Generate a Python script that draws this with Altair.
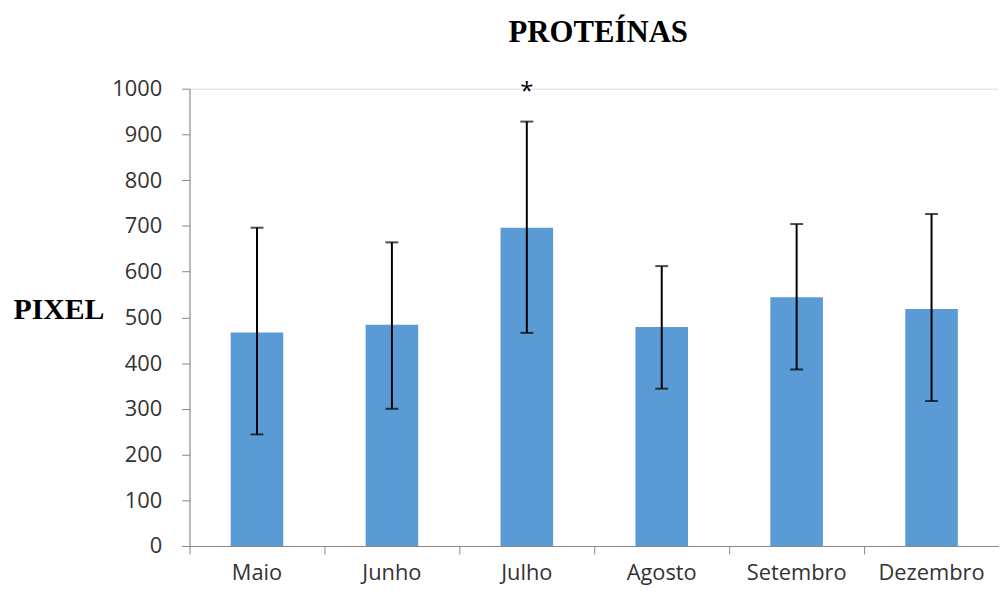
import altair as alt
import pandas as pd

months = ["Maio", "Junho", "Julho", "Agosto", "Setembro", "Dezembro"]
mean_pixel = [467, 484, 696, 479, 544, 518]
err_low = [244, 300, 466, 344, 386, 317]
err_high = [696, 664, 928, 612, 704, 726]
sig_marks = ["", "", "*", "", "", ""]
sig_level = [1000, 1000, 1000, 1000, 1000, 1000]
y_ticks = [0, 100, 200, 300, 400, 500, 600, 700, 800, 900, 1000]

df = pd.DataFrame({
    "mes": months,
    "pixel": mean_pixel,
    "lo": err_low,
    "hi": err_high,
    "sig": sig_marks,
    "sig_y": sig_level,
})

AX = "#868686"
LBL = "#333333"

x_enc = alt.X(
    "mes:N",
    sort=months,
    scale=alt.Scale(paddingInner=0, paddingOuter=0),
    axis=alt.Axis(
        title=None,
        labelAngle=0,
        labelFont="Open Sans",
        labelFontSize=22,
        labelColor=LBL,
        labelPadding=9,
        bandPosition=0,
        tickSize=8,
        tickColor=AX,
        domainColor=AX,
        domainWidth=1,
        labelBaseline="top",
    ),
)

y_scale = alt.Scale(domain=[0, 1000], nice=False, zero=True)

bars = alt.Chart(df).mark_bar(size=53, color="#5B9BD5").encode(
    x=x_enc,
    y=alt.Y(
        "pixel:Q",
        scale=y_scale,
        axis=alt.Axis(
            values=y_ticks,
            format="d",
            grid=False,
            title="PIXEL",
            titleFont="Liberation Serif",
            titleFontSize=30,
            titleFontWeight="bold",
            titleColor="black",
            titleAngle=0,
            titleAlign="left",
            titleBaseline="alphabetic",
            titleX=-178,
            titleY=232,
            labelFont="Open Sans",
            labelFontSize=22,
            labelColor=LBL,
            labelPadding=20,
            tickSize=8,
            tickColor=AX,
            domainColor=AX,
            domainWidth=1,
        ),
    ),
)

rules = alt.Chart(df).mark_rule(color="black", strokeWidth=2).encode(
    x=alt.X("mes:N", sort=months),
    y=alt.Y("lo:Q", scale=y_scale),
    y2="hi:Q",
)

cap_lo = alt.Chart(df).mark_tick(color="black", thickness=2, size=13, orient="horizontal").encode(
    x=alt.X("mes:N", sort=months),
    y=alt.Y("lo:Q", scale=y_scale),
)
cap_hi = alt.Chart(df).mark_tick(color="black", thickness=2, size=13, orient="horizontal").encode(
    x=alt.X("mes:N", sort=months),
    y=alt.Y("hi:Q", scale=y_scale),
)

stars = alt.Chart(df).mark_text(
    font="Open Sans", fontSize=24, color="black", baseline="middle", dy=3
).encode(
    x=alt.X("mes:N", sort=months),
    y=alt.Y("sig_y:Q", scale=y_scale),
    text="sig:N",
)

chart = alt.layer(bars, rules, cap_lo, cap_hi, stars).properties(
    width=816,
    height=461,
    title=alt.TitleParams(
        "PROTEÍNAS",
        font="Liberation Serif",
        fontSize=31,
        fontWeight="bold",
        color="black",
        anchor="middle",
        offset=29,
        dx=4,
    ),
    autosize=alt.AutoSizeParams(type="none"),
    padding={"left": 183, "top": 79, "right": 0, "bottom": 38},
).configure_view(stroke=None).configure(background="white")

chart.save("out.html", embed_options={"renderer": "svg", "actions": False})
